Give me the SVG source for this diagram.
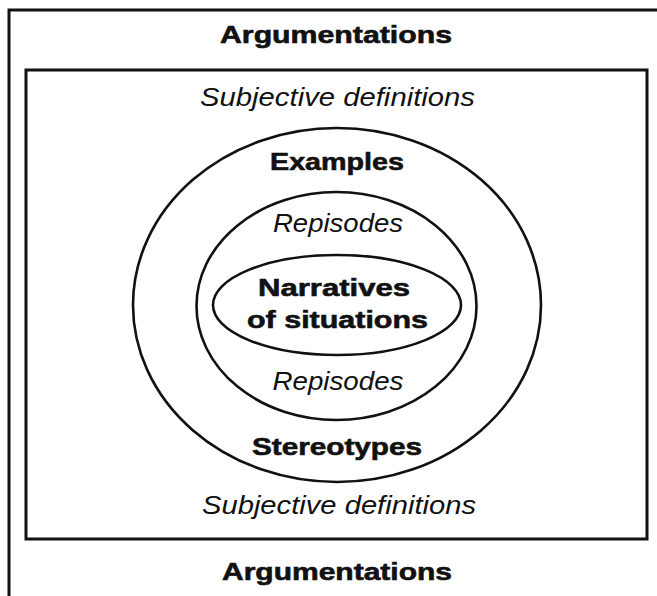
<svg xmlns="http://www.w3.org/2000/svg" width="657" height="596" viewBox="0 0 657 596">
<style>
.frame{fill:none;stroke:#111;stroke-width:3}
.ring{fill:none;stroke:#111;stroke-width:2.6}
.b{font-family:"Liberation Sans",Arial,sans-serif;font-weight:bold;font-size:24px;fill:#111;stroke:#111;stroke-width:0.6;text-anchor:middle}
.i{font-family:"Liberation Sans",Arial,sans-serif;font-style:italic;font-size:25px;fill:#111;text-anchor:middle}
</style>
<rect width="657" height="596" fill="#fff"/>
<g id="outer-frame">
<path class="frame" d="M9,596 V10 H657"/>
<text class="b" x="336" y="43" font-size="25" textLength="232" lengthAdjust="spacingAndGlyphs">Argumentations</text>
<text class="b" x="337" y="580" font-size="25" textLength="230" lengthAdjust="spacingAndGlyphs">Argumentations</text>
</g>
<g id="inner-frame">
<rect class="frame" x="26" y="70" width="621" height="469"/>
<text class="i" x="337.5" y="106" textLength="275" lengthAdjust="spacingAndGlyphs">Subjective definitions</text>
<text class="i" x="339" y="514" textLength="274" lengthAdjust="spacingAndGlyphs">Subjective definitions</text>
</g>
<g id="outer-ellipse">
<ellipse class="ring" cx="337" cy="305" rx="204" ry="177"/>
<text class="b" x="337" y="170" textLength="134" lengthAdjust="spacingAndGlyphs">Examples</text>
<text class="b" x="337" y="455" textLength="170" lengthAdjust="spacingAndGlyphs">Stereotypes</text>
</g>
<g id="middle-ellipse">
<ellipse class="ring" cx="336.5" cy="306" rx="140" ry="114"/>
<text class="i" x="338" y="232" textLength="130" lengthAdjust="spacingAndGlyphs">Repisodes</text>
<text class="i" x="338" y="390" textLength="131" lengthAdjust="spacingAndGlyphs">Repisodes</text>
</g>
<g id="inner-ellipse">
<ellipse class="ring" cx="337" cy="305" rx="124" ry="50"/>
<text class="b" x="334" y="296" textLength="152" lengthAdjust="spacingAndGlyphs">Narratives</text>
<text class="b" x="337.5" y="328" textLength="181" lengthAdjust="spacingAndGlyphs">of situations</text>
</g>
<g id="connectors"/>
</svg>
